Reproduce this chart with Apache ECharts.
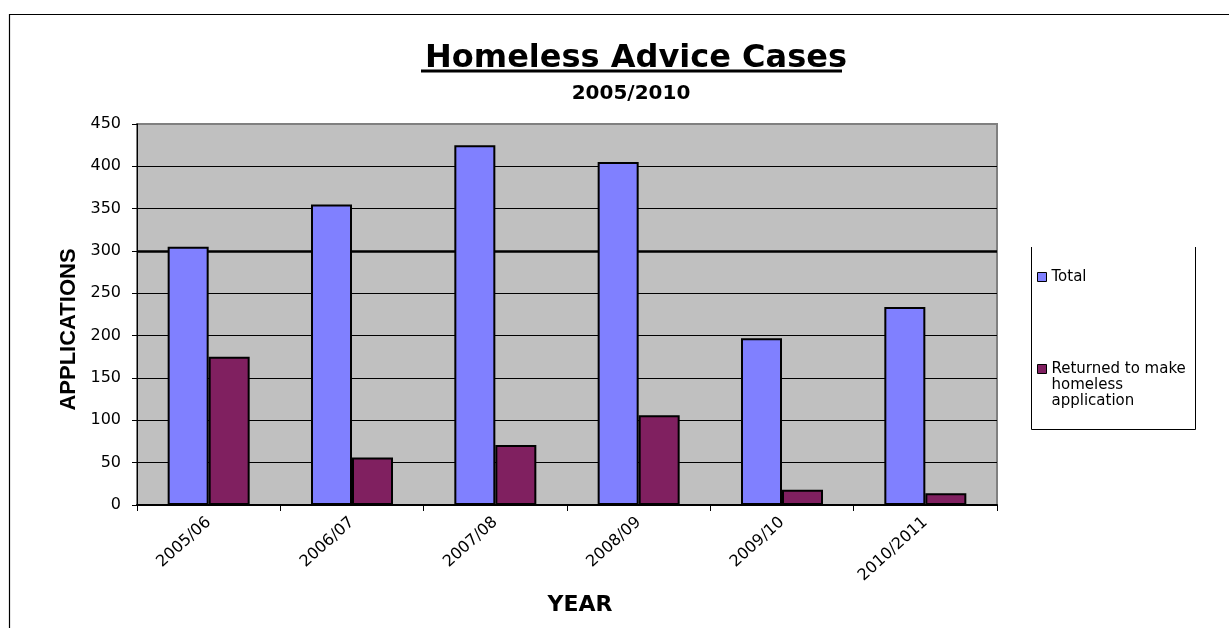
<!DOCTYPE html>
<html>
<head>
<meta charset="utf-8">
<script src="https://cdn.jsdelivr.net/npm/echarts@6/dist/echarts.min.js"></script>
<style>
  html, body { margin: 0; padding: 0; background: #ffffff; }
  #chart { width: 1229px; height: 628px; }
</style>
</head>
<body>
<div id="chart"></div>
<script>
// Financial years on the category axis
const years = ['2005/06', '2006/07', '2007/08', '2008/09', '2009/10', '2010/2011'];
// Homeless advice cases per year
const totalCases = [305, 355, 425, 405, 197, 234];
// Cases that came back to make a homeless application
const returnedCases = [175, 56, 71, 106, 18, 14];
// Value axis range and step
const yMin = 0;
const yMax = 450;
const yStep = 50;

const seriesNames = ['Total', 'Returned to make homeless application'];
const FONT = 'DejaVu Sans';

const chart = echarts.init(document.getElementById('chart'), null, { renderer: 'canvas' });

chart.setOption({
  backgroundColor: '#ffffff',
  animation: false,
  title: [
    {
      text: 'Homeless Advice Cases',
      left: 631,
      top: 38,
      textAlign: 'center',
      textStyle: { fontFamily: FONT, fontWeight: 'bold', fontSize: 32, color: '#000' }
    },
    {
      text: '2005/2010',
      left: 626,
      top: 79,
      textAlign: 'center',
      textStyle: { fontFamily: FONT, fontWeight: 'bold', fontSize: 20, color: '#000' }
    }
  ],
  legend: [
    {
      data: [seriesNames[0]],
      orient: 'vertical',
      left: 1037,
      top: 269,
      padding: 0,
      selectedMode: false,
      itemWidth: 9,
      itemHeight: 9,
      itemGap: 0,
      icon: 'rect',
      itemStyle: { borderColor: '#000', borderWidth: 1 },
      textStyle: { fontFamily: FONT, fontSize: 15, color: '#000', lineHeight: 16 }
    },
    {
      data: [seriesNames[1]],
      orient: 'vertical',
      left: 1037,
      top: 329,
      padding: 0,
      selectedMode: false,
      itemWidth: 9,
      itemHeight: 9,
      itemGap: 0,
      icon: 'rect',
      itemStyle: { borderColor: '#000', borderWidth: 1 },
      // two empty lines above keep the swatch level with the first text line
      formatter: () => '\n\nReturned to make\nhomeless\napplication',
      textStyle: { fontFamily: FONT, fontSize: 15, color: '#000', lineHeight: 16 }
    }
  ],
  grid: {
    left: 137,
    right: 232,
    top: 124,
    bottom: 123,
    show: true,
    backgroundColor: '#C0C0C0',
    borderColor: '#808080',
    borderWidth: 2
  },
  xAxis: {
    type: 'category',
    data: years,
    name: 'YEAR',
    nameLocation: 'middle',
    nameGap: 89,
    nameTextStyle: {
      fontFamily: FONT, fontWeight: 'bold', fontSize: 22, color: '#000',
      padding: [0, 0, 0, 26]
    },
    axisLine: { show: true, lineStyle: { color: '#000', width: 2 } },
    axisTick: { show: true, length: 6, lineStyle: { color: '#000', width: 1 } },
    axisLabel: {
      rotate: 42,
      margin: 15,
      interval: 0,
      fontFamily: FONT,
      fontSize: 16,
      color: '#000'
    },
    splitLine: { show: false }
  },
  yAxis: {
    type: 'value',
    min: yMin,
    max: yMax,
    interval: yStep,
    name: 'APPLICATIONS',
    nameLocation: 'middle',
    nameGap: 55,
    nameRotate: 90,
    nameTextStyle: {
      fontFamily: 'Liberation Sans', fontWeight: 'bold', fontSize: 22, color: '#000',
      padding: [0, 30, 0, 0]
    },
    axisLine: { show: true, lineStyle: { color: '#000', width: 1 } },
    axisTick: { show: true, length: 5, lineStyle: { color: '#000', width: 1 } },
    axisLabel: { fontFamily: FONT, fontSize: 16, color: '#000', margin: 16 },
    splitLine: { show: true, showMaxLine: false, lineStyle: { color: '#000', width: 1 } }
  },
  series: [
    {
      name: seriesNames[0],
      type: 'bar',
      data: totalCases,
      barWidth: 41,
      barGap: '0%',
      z: 3,
      itemStyle: { color: '#8080FF', borderColor: '#000', borderWidth: 2 },
      // heavier gridline at 300, kept behind the bars
      markLine: {
        silent: true,
        z: 1,
        symbol: 'none',
        label: { show: false },
        lineStyle: { color: '#000', width: 2.5, type: 'solid' },
        data: [{ yAxis: 300 }]
      }
    },
    {
      name: seriesNames[1],
      type: 'bar',
      data: returnedCases,
      barWidth: 41,
      barGap: '0%',
      z: 3,
      itemStyle: { color: '#802060', borderColor: '#000', borderWidth: 2 }
    }
  ],
  graphic: [
    {
      type: 'rect',
      silent: true,
      shape: { x: 9.5, y: 14.5, width: 1240, height: 700 },
      style: { fill: 'none', stroke: '#000', lineWidth: 1.2 }
    },
    {
      type: 'line',
      silent: true,
      shape: { x1: 421, y1: 71, x2: 842, y2: 71 },
      style: { stroke: '#000', lineWidth: 3 }
    },
    {
      type: 'polyline',
      silent: true,
      shape: { points: [[1031.5, 247], [1031.5, 429.5], [1195.5, 429.5], [1195.5, 247]] },
      style: { fill: 'none', stroke: '#000', lineWidth: 1 }
    }
  ]
});
</script>
</body>
</html>
